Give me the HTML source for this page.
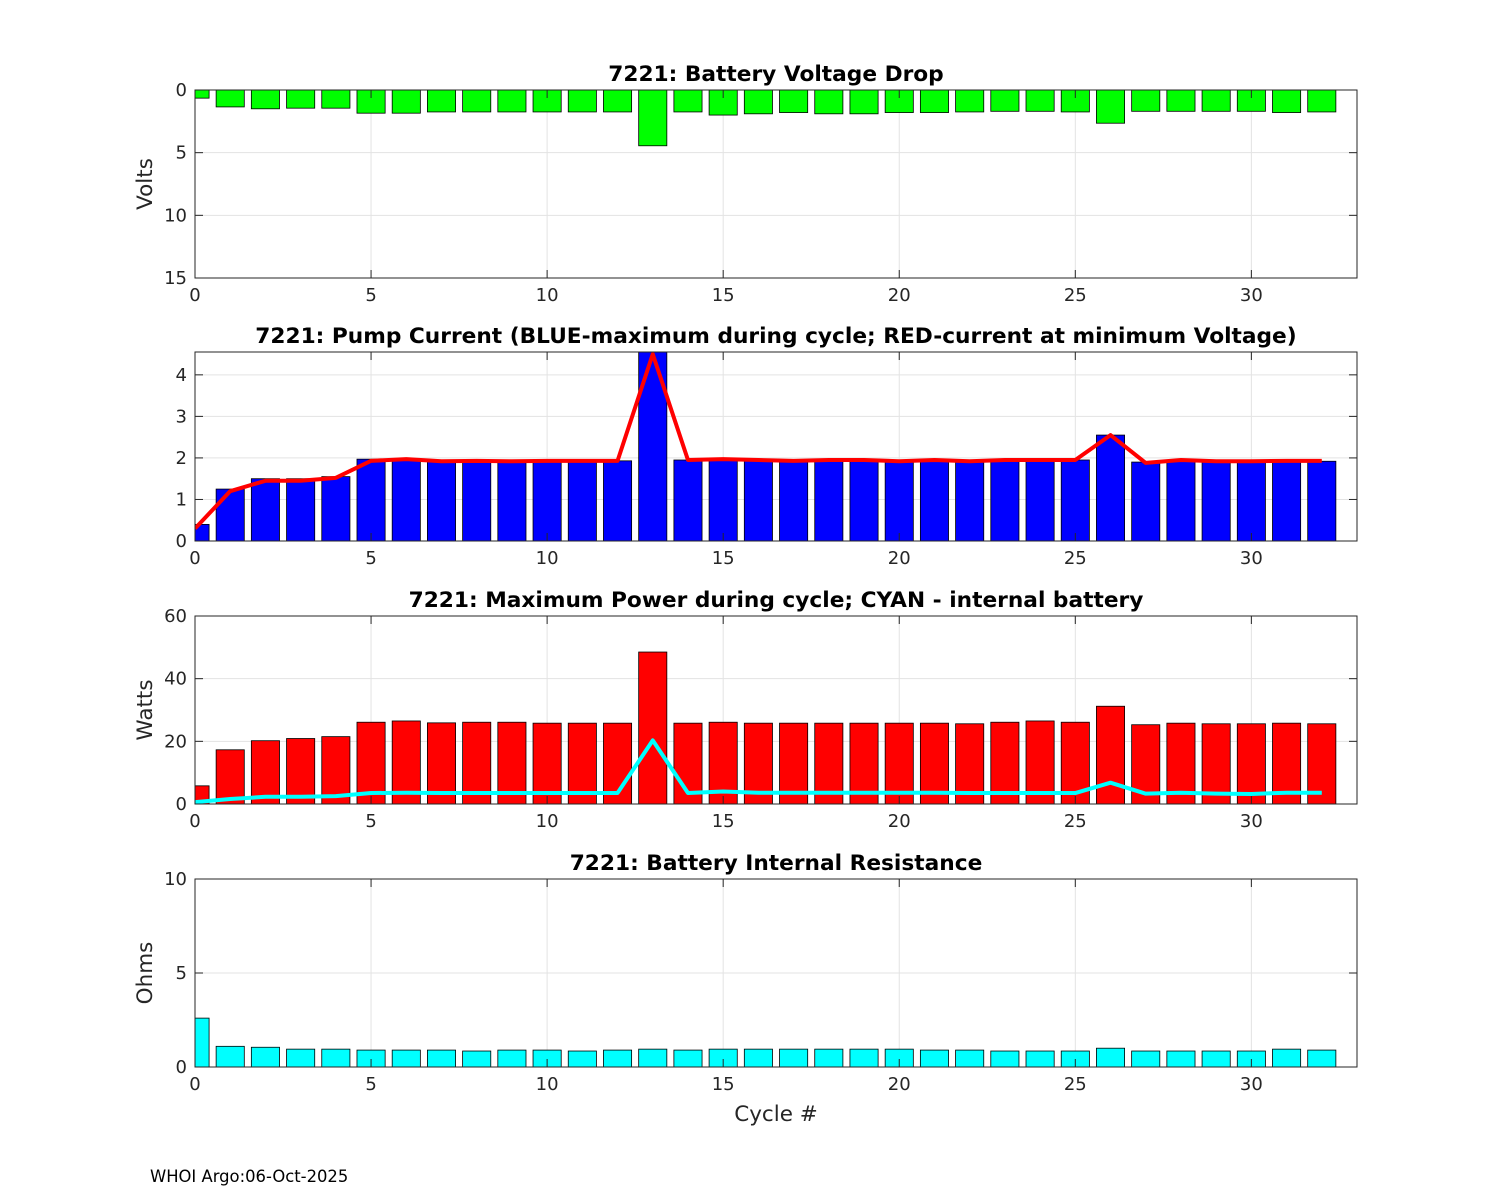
<!DOCTYPE html>
<html><head><meta charset="utf-8"><style>
body{margin:0;background:#fff;}
svg{display:block;font-family:"DejaVu Sans","Liberation Sans",sans-serif;}
</style></head><body>
<svg id="c" width="1500" height="1200" viewBox="0 0 1500 1200">
<rect width="1500" height="1200" fill="#fff"/>
<text x="150" y="1182" font-size="16.4">WHOI Argo:06-Oct-2025</text>
</svg>
<script>
const cycles=[...Array(33).keys()];
const voltDrop=[0.65,1.35,1.5,1.45,1.45,1.85,1.85,1.75,1.75,1.75,1.75,1.75,1.75,4.45,1.75,2.0,1.9,1.8,1.9,1.9,1.8,1.8,1.75,1.7,1.7,1.75,2.65,1.7,1.7,1.7,1.7,1.8,1.75];
const pumpMax=[0.4,1.25,1.5,1.5,1.55,1.97,1.98,1.93,1.93,1.92,1.93,1.93,1.93,4.55,1.95,1.98,1.96,1.95,1.95,1.97,1.93,1.95,1.92,1.95,1.95,1.95,2.55,1.9,1.93,1.92,1.9,1.93,1.92];
const pumpAtMinV=[0.3,1.2,1.45,1.45,1.52,1.93,1.97,1.92,1.93,1.92,1.93,1.93,1.93,4.5,1.95,1.97,1.95,1.93,1.95,1.95,1.92,1.95,1.92,1.95,1.95,1.95,2.55,1.88,1.95,1.92,1.92,1.93,1.93];
const powerMax=[5.8,17.3,20.2,20.9,21.5,26.1,26.5,25.9,26.1,26.1,25.8,25.8,25.8,48.5,25.8,26.1,25.8,25.8,25.8,25.8,25.8,25.8,25.6,26.1,26.5,26.1,31.2,25.3,25.8,25.6,25.6,25.8,25.6];
const powerInternal=[0.6,1.6,2.3,2.3,2.5,3.5,3.6,3.5,3.5,3.5,3.5,3.5,3.5,20.3,3.5,4.0,3.6,3.6,3.6,3.6,3.6,3.6,3.5,3.5,3.5,3.5,6.8,3.3,3.6,3.3,3.2,3.6,3.6];
const resistance=[2.6,1.1,1.05,0.95,0.95,0.9,0.9,0.9,0.85,0.9,0.9,0.85,0.9,0.95,0.9,0.95,0.95,0.95,0.95,0.95,0.95,0.9,0.9,0.85,0.85,0.85,1.0,0.85,0.85,0.85,0.85,0.95,0.9];
const xTicks=[0,5,10,15,20,25,30];
const svg=document.getElementById('c');const NS='http://www.w3.org/2000/svg';
function mk(t,a,p){const e=document.createElementNS(NS,t);for(const k in a)e.setAttribute(k,a[k]);(p||svg).appendChild(e);return e;}
const L=195,R=1357,XMAX=33;
const sx=v=>L+(R-L)*v/XMAX;
function panel(id,top,bot,ymax,rev,yTicks,title,ylabel,bars,barColor,line,lineColor){
 const g=mk('g',{});
 
 
 const sy=v=>rev?top+(bot-top)*v/ymax:bot-(bot-top)*v/ymax;
 mk('rect',{x:L,y:top,width:R-L,height:bot-top,fill:'#fff'},g);
 xTicks.forEach(t=>{mk('line',{x1:sx(t),x2:sx(t),y1:top,y2:bot,stroke:'#e3e3e3','stroke-width':1},g);});
 yTicks.forEach(t=>{mk('line',{x1:L,x2:R,y1:sy(t),y2:sy(t),stroke:'#e3e3e3','stroke-width':1},g);});
 const cp=mk('clipPath',{id:'cp'+id},g);mk('rect',{x:L,y:top,width:R-L,height:bot-top},cp);
 const bg=mk('g',{'clip-path':'url(#cp'+id+')'},g);
 bars.forEach((v,i)=>{const x0=sx(cycles[i]-0.4),x1=sx(cycles[i]+0.4);const y0=sy(0),y1=sy(v);
  const r=mk('rect',{x:x0,y:Math.min(y0,y1),width:x1-x0,height:Math.abs(y1-y0),fill:barColor,stroke:'#000','stroke-width':0.8},bg);
  
  });
 if(line){const p=mk('polyline',{points:line.map((v,i)=>sx(cycles[i])+','+sy(v)).join(' '),fill:'none',stroke:lineColor,'stroke-width':4,'stroke-linejoin':'round'},bg);
  
  }
 mk('rect',{x:L,y:top,width:R-L,height:bot-top,fill:'none',stroke:'#262626','stroke-width':1},g);
 xTicks.forEach(t=>{const x=sx(t);
  mk('line',{x1:x,x2:x,y1:bot,y2:bot-8,stroke:'#262626'},g);mk('line',{x1:x,x2:x,y1:top,y2:top+8,stroke:'#262626'},g);
  const tx=mk('text',{x:x,y:bot+23,'font-size':18,fill:'#262626','text-anchor':'middle'},g);tx.textContent=t;
  
  });
 yTicks.forEach(t=>{const y=sy(t);
  mk('line',{x1:L,x2:L+8,y1:y,y2:y,stroke:'#262626'},g);mk('line',{x1:R,x2:R-8,y1:y,y2:y,stroke:'#262626'},g);
  const tx=mk('text',{x:L-8,y:y+6,'font-size':18,fill:'#262626','text-anchor':'end'},g);tx.textContent=t;
  
  });
 const tt=mk('text',{x:(L+R)/2,y:top-9,'font-size':21.7,'font-weight':'bold','text-anchor':'middle'},g);tt.textContent=title;
 
 
 if(ylabel){const yl=mk('text',{x:0,y:0,'font-size':21.5,fill:'#262626','text-anchor':'middle',transform:`translate(152,${(top+bot)/2}) rotate(-90)`},g);yl.textContent=ylabel;
  
  }
}
panel('voltage',90,278,15,true,[0,5,10,15],'7221: Battery Voltage Drop','Volts',voltDrop,'#00ff00');
panel('pump',352,541,4.55,false,[0,1,2,3,4],'7221: Pump Current (BLUE-maximum during cycle; RED-current at minimum Voltage)','',pumpMax,'#0000ff',pumpAtMinV,'#ff0000');
panel('power',616,804,60,false,[0,20,40,60],'7221: Maximum Power during cycle; CYAN - internal battery','Watts',powerMax,'#ff0000',powerInternal,'#00ffff');
panel('resistance',879,1067,10,false,[0,5,10],'7221: Battery Internal Resistance','Ohms',resistance,'#00ffff');
const xl=mk('text',{x:776,y:1121,'font-size':21.5,fill:'#262626','text-anchor':'middle'});xl.textContent='Cycle #';


</script>
</body></html>
